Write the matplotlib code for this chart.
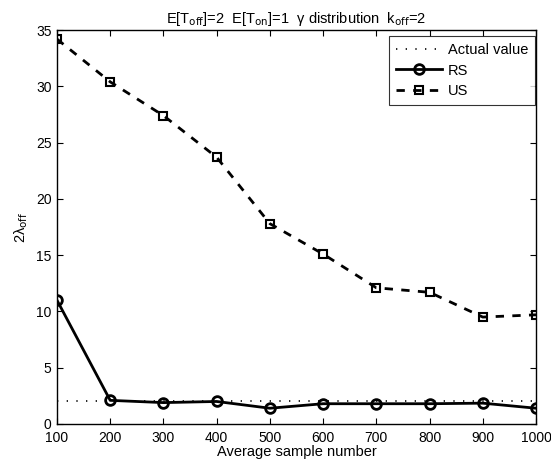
import matplotlib
matplotlib.use('Agg')
import matplotlib.pyplot as plt

plt.rcParams['font.family'] = ['Liberation Sans', 'DejaVu Sans']

samples = [100, 200, 300, 400, 500, 600, 700, 800, 900, 1000]
actual = [2] * len(samples)
rs = [11.0, 2.1, 1.9, 2.0, 1.4, 1.8, 1.8, 1.8, 1.85, 1.4]
us = [34.2, 30.4, 27.4, 23.7, 17.8, 15.1, 12.1, 11.7, 9.5, 9.7]

fig = plt.figure(figsize=(5.51, 4.70), dpi=100)
ax = fig.add_axes([0.1034, 0.0979, 0.8694, 0.8381])

ax.plot(samples, actual, color='black', linestyle=(0, (0.8, 5)), linewidth=1.2,
        label='Actual value')
ax.plot(samples, rs, color='black', linewidth=2, marker='o', markersize=7,
        markerfacecolor='none', markeredgewidth=2, label='RS')
ax.plot(samples, us, color='black', linewidth=2, linestyle=(0, (3, 3)), marker='s',
        markersize=6, markerfacecolor='none', markeredgewidth=1.5, label='US')

ax.set_xlim(100, 1000)
ax.set_ylim(0, 35)
ax.set_xticks(samples)
ax.set_yticks(range(0, 36, 5))
ax.tick_params(direction='in', top=True, right=True, labelsize=10, length=4)
ax.tick_params(axis='x', pad=5)
ax.tick_params(axis='y', pad=4)
for s in ax.spines.values():
    s.set_linewidth(1)

ax.set_xlabel('Average sample number', fontsize=10.5, labelpad=0)
ax.set_ylabel(r'2λ$_{\mathrm{off}}$', fontsize=10.5, labelpad=4)
ax.set_title(r'E[T$_{\mathrm{off}}$]=2  E[T$_{\mathrm{on}}$]=1  γ distribution  k$_{\mathrm{off}}$=2',
             fontsize=10.5, pad=5)

leg = ax.legend(loc='upper right', bbox_to_anchor=(0.998, 0.984), fontsize=10.5,
                frameon=True, fancybox=False, edgecolor='black', handlelength=3.2,
                borderpad=0.45, labelspacing=0.45, handletextpad=0.4, borderaxespad=0.0)
leg.get_frame().set_linewidth(0.8)

fig.savefig('out.png', dpi=100)
